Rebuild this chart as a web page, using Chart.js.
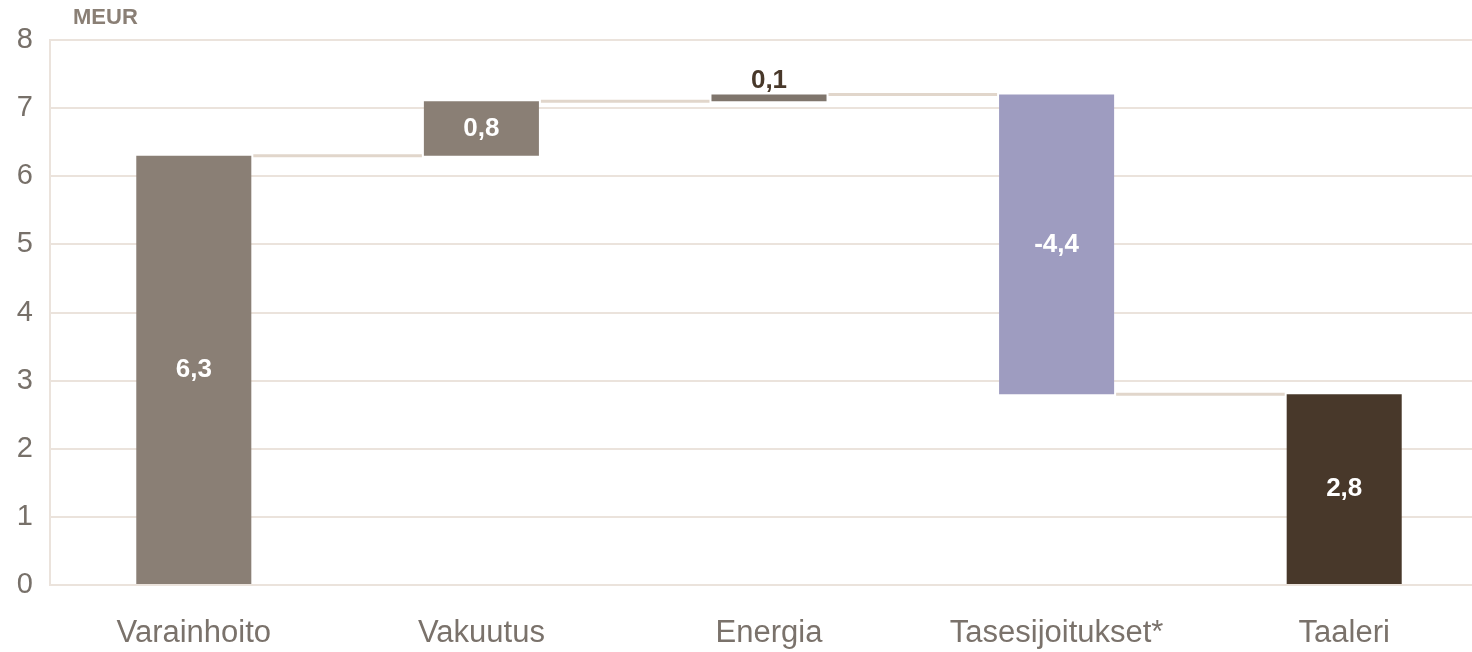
<!DOCTYPE html>
<html>
<head>
<meta charset="utf-8">
<script src="https://cdn.jsdelivr.net/npm/chart.js@4/dist/chart.umd.min.js"></script>
<style>
  html, body { margin: 0; padding: 0; background: #fff; overflow: hidden; }
  #wrap { width: 1488px; height: 652px; position: relative; }
</style>
</head>
<body>
<div id="wrap"><canvas id="chart"></canvas></div>
<script>
// Chart data
const categories = ['Varainhoito', 'Vakuutus', 'Energia', 'Tasesijoitukset*', 'Taaleri'];
const changes = [6.3, 0.8, 0.1, -4.4, 2.8];
const isTotal = [false, false, false, false, true];
const barColors = ['#8a7f75', '#8a7f75', '#7f756c', '#9e9cc0', '#48382a'];
const yTicks = [0, 1, 2, 3, 4, 5, 6, 7, 8];
const unitLabel = 'MEUR';

// Build floating ranges for the waterfall
const ranges = [];
const levels = [];
let running = 0;
changes.forEach(function(v, i) {
    if (isTotal[i]) {
        ranges.push([0, v]);
        running = v;
    } else {
        ranges.push([running, Math.round((running + v) * 10) / 10]);
        running = Math.round((running + v) * 10) / 10;
    }
    levels.push(running);
});

function fmt(v) {
    return v.toFixed(1).replace('.', ',');
}

// Connector lines between bars
const connectorPlugin = {
    id: 'connectors',
    beforeDatasetsDraw(chart) {
        const ctx = chart.ctx;
        const meta = chart.getDatasetMeta(0);
        const y = chart.scales.y;
        ctx.save();
        ctx.strokeStyle = '#e1d6cb';
        ctx.lineWidth = 3;
        for (let i = 0; i < meta.data.length - 1; i++) {
            const a = meta.data[i], b = meta.data[i + 1];
            const py = y.getPixelForValue(levels[i]);
            ctx.beginPath();
            ctx.moveTo(a.x + a.width / 2 + 2, py);
            ctx.lineTo(b.x - b.width / 2 - 2, py);
            ctx.stroke();
        }
        ctx.restore();
    }
};

// Value labels + unit label
const labelPlugin = {
    id: 'valueLabels',
    afterDatasetsDraw(chart) {
        const ctx = chart.ctx;
        const meta = chart.getDatasetMeta(0);
        ctx.save();
        ctx.font = 'bold 26px "Liberation Sans", Arial, sans-serif';
        ctx.textAlign = 'center';
        ctx.textBaseline = 'middle';
        meta.data.forEach(function(bar, i) {
            const h = Math.abs(bar.base - bar.y);
            if (h < 30) {
                ctx.fillStyle = '#48382a';
                ctx.fillText(fmt(changes[i]), bar.x, Math.min(bar.y, bar.base) - 14);
            } else {
                ctx.fillStyle = '#ffffff';
                ctx.fillText(fmt(changes[i]), bar.x, (bar.y + bar.base) / 2);
            }
        });
        ctx.fillStyle = '#8a7f75';
        ctx.font = 'bold 22px "Liberation Sans", Arial, sans-serif';
        ctx.textAlign = 'left';
        ctx.fillText(unitLabel, 73, 18);
        ctx.restore();
    }
};

new Chart(document.getElementById('chart'), {
    type: 'bar',
    data: {
        labels: categories,
        datasets: [{
            data: ranges,
            backgroundColor: barColors,
            borderWidth: 0,
            barPercentage: 0.4,
            categoryPercentage: 1.0
        }]
    },
    options: {
        responsive: true,
        maintainAspectRatio: false,
        animation: false,
        devicePixelRatio: 1,
        layout: { padding: { top: 40, right: 0, left: 0, bottom: 0 } },
        plugins: {
            legend: { display: false },
            tooltip: { enabled: false }
        },
        scales: {
            x: {
                grid: { display: false, drawTicks: false },
                border: { display: false },
                ticks: {
                    color: '#7a726b',
                    font: { family: '"Liberation Sans", Arial, sans-serif', size: 31 },
                    padding: 30,
                    maxRotation: 0
                },
                afterFit(scale) { scale.height = 67; }
            },
            y: {
                min: 0,
                max: 8,
                afterBuildTicks(scale) {
                    scale.ticks = yTicks.map(v => ({ value: v }));
                },
                grid: { color: '#ebe3dc', lineWidth: 2, drawTicks: false },
                border: { display: true, color: '#ebe3dc', width: 2 },
                ticks: {
                    color: '#777069',
                    font: { family: '"Liberation Sans", Arial, sans-serif', size: 29 },
                    padding: 17
                },
                afterFit(scale) { scale.width = 50; }
            }
        }
    },
    plugins: [connectorPlugin, labelPlugin]
});
</script>
</body>
</html>
